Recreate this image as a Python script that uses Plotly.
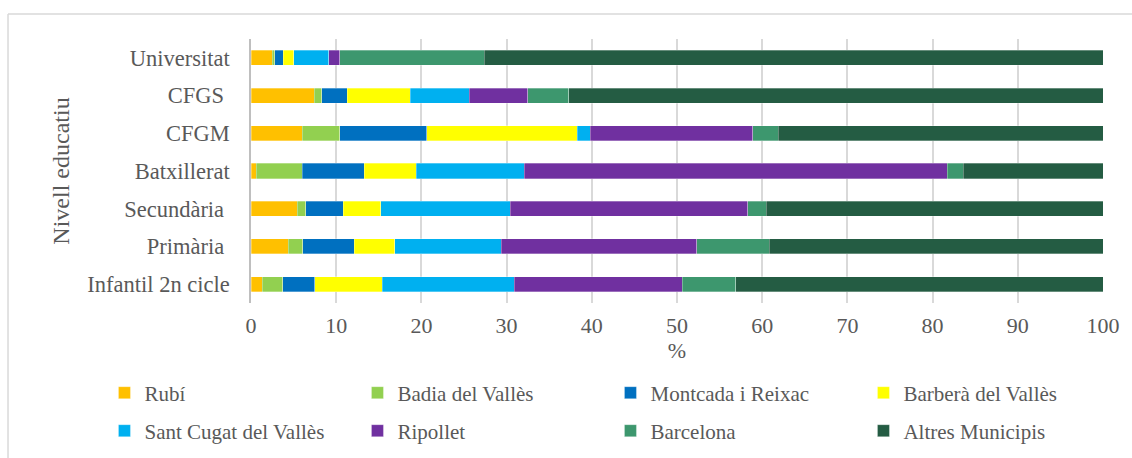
import plotly.graph_objects as go

categories = ["Universitat", "CFGS\u00a0", "CFGM", "Batxillerat", "Secundària\u00a0", "Primària\u00a0", "Infantil 2n cicle"]

series_names = ["Rubí", "Badia del Vallès", "Montcada i Reixac", "Barberà del Vallès",
                "Sant Cugat del Vallès", "Ripollet", "Barcelona", "Altres Municipis"]
colors = ["#FFC000", "#92D050", "#0070C0", "#FFFF00", "#00B0F0", "#7030A0", "#3D976E", "#245C43"]

# values (%) per category, same order as categories
rubi      = [2.5, 7.4, 6.0, 0.6, 5.4, 4.4, 1.3]
badia     = [0.3, 0.9, 4.4, 5.4, 1.0, 1.7, 2.4]
montcada  = [1.0, 3.0, 10.2, 7.3, 4.4, 6.0, 3.8]
barbera   = [1.2, 7.4, 17.7, 6.1, 4.4, 4.8, 7.9]
santcugat = [4.1, 6.9, 1.5, 12.7, 15.2, 12.5, 15.5]
ripollet  = [1.3, 6.9, 19.1, 49.6, 27.9, 22.9, 19.7]
barcelona = [17.0, 4.8, 3.0, 1.9, 2.2, 8.5, 6.3]
altres    = [72.6, 62.7, 38.1, 16.4, 39.5, 39.2, 43.1]

values = [rubi, badia, montcada, barbera, santcugat, ripollet, barcelona, altres]

FONT = "Liberation Serif"
GRAY = "#595959"

fig = go.Figure()
for i, (name, vals, col) in enumerate(zip(series_names, values, colors)):
    fig.add_trace(go.Bar(
        y=categories, x=vals, name=name, orientation="h",
        marker=dict(color=col, line=dict(color="rgba(255,255,255,0.6)", width=0.5)),
        legend="legend" if i < 4 else "legend2",
    ))

legend_common = dict(
    orientation="h", entrywidth=208, entrywidthmode="pixels",
    font=dict(family=FONT, size=21, color=GRAY),
    xanchor="left", yanchor="middle", bgcolor="rgba(0,0,0,0)",
    itemclick=False, traceorder="normal",
)

fig.update_layout(
    width=1132, height=458,
    margin=dict(l=251, r=29, t=39, b=155, autoexpand=False),
    barmode="stack", bargap=0.6,
    plot_bgcolor="white", paper_bgcolor="white",
    font=dict(family=FONT, size=21, color=GRAY),
    legend=dict(x=-0.172, y=-0.341, **legend_common),
    legend2=dict(x=-0.172, y=-0.485, **legend_common),
    xaxis=dict(
        range=[0, 100], dtick=10, showgrid=True, gridcolor="#D9D9D9", gridwidth=1.5,
        zeroline=False, showline=False, ticks="", ticklabelstandoff=7, automargin=False,
        tickfont=dict(family=FONT, size=22, color=GRAY),
        title=dict(text="%", font=dict(family=FONT, size=22, color=GRAY), standoff=3),
    ),
    yaxis=dict(
        autorange="reversed", showline=True, linecolor="#BFBFBF", linewidth=1.5,
        showgrid=False, ticks="", ticklabelstandoff=15, automargin=False,
        tickfont=dict(family=FONT, size=22.5, color=GRAY),
        title=dict(text="Nivell educatiu", font=dict(family=FONT, size=24, color=GRAY), standoff=11),
    ),
    shapes=[
        dict(type="line", xref="paper", yref="paper", x0=-0.2852, x1=1.05, y0=1.0947, y1=1.0947,
             line=dict(color="#D9D9D9", width=1.5)),
        dict(type="line", xref="paper", yref="paper", x0=-0.2852, x1=-0.2852, y0=1.0947, y1=-0.6,
             line=dict(color="#D9D9D9", width=1.5)),
    ],
)

fig.write_html("out.html", config={"displayModeBar": False},
               post_script="document.body.style.margin='0';document.body.style.overflow='hidden';")
